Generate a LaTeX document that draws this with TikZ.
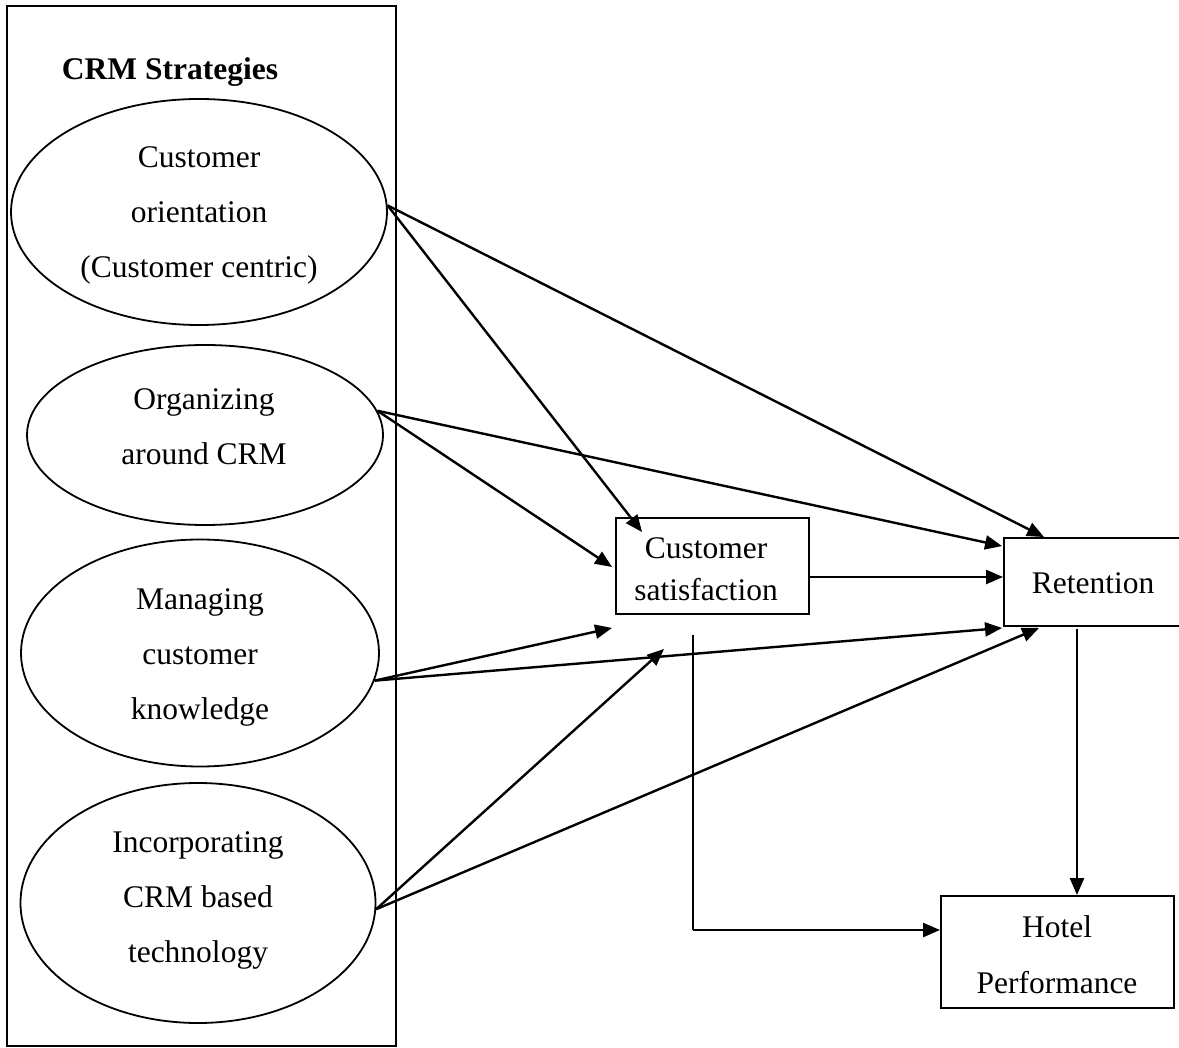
\documentclass[tikz,border=0pt]{standalone}
\usepackage{fontspec}
\setmainfont{Liberation Serif}
\usetikzlibrary{arrows.meta,shapes.geometric,calc}

\begin{document}
\begin{tikzpicture}[x=1pt,y=-1pt,
  oval/.style={draw, ellipse, line width=1.8pt, inner sep=0pt},
  box/.style={draw, rectangle, line width=1.9pt, inner sep=0pt},
  txt/.style={align=center, font=\fontsize{31.5}{55}\selectfont, inner sep=0pt},
  link/.style={line width=2.4pt, -{Triangle[length=17pt,width=14pt]}},
  thinlink/.style={line width=1.8pt},
]
\useasboundingbox (0,0) rectangle (1179,1048);

% container for the CRM strategies
\node[box, minimum width=389pt, minimum height=1040pt] (frame) at (201.5,526) {};
\node[txt, font=\fontsize{31.5}{55}\selectfont\bfseries] (title) at (170,72) {CRM Strategies};

% strategy ellipses
\node[oval, minimum width=376pt, minimum height=226pt] (e1) at (199,212) {};
\node[oval, minimum width=356pt, minimum height=180pt] (e2) at (205,435) {};
\node[oval, minimum width=358pt, minimum height=227pt] (e3) at (200,653) {};
\node[oval, minimum width=355pt, minimum height=240pt] (e4) at (198,903) {};

\node[txt] (t1) at (199,215) {Customer\\orientation\\(Customer centric)};
\node[txt] (t2) at (204,427) {Organizing\\around CRM};
\node[txt] (t3) at (200,657) {Managing\\customer\\knowledge};
\node[txt] (t4) at (198,900) {Incorporating\\CRM based\\technology};

% outcome boxes
\node[box, minimum width=193pt, minimum height=96pt] (cs) at (712.5,566) {};
\node[txt, font=\fontsize{31.5}{42}\selectfont] (cst) at (706,569) {Customer\\satisfaction};
\node[box, minimum width=178pt, minimum height=88pt] (ret) at (1093,582) {};
\node[txt] (rett) at (1093,583) {Retention};
\node[box, minimum width=233pt, minimum height=112pt] (hotel) at (1057.5,952) {};
\node[txt, font=\fontsize{31.5}{56}\selectfont] (hotelt) at (1057,955) {Hotel\\Performance};

% connectors
\draw[link] (e1.2) -- ($(cs.north west)+(27,15)$);
\draw[link] (e1.2) -- ($(ret.north west)+(41,0)$);
\draw[link] (e2.8) -- ($(cs.west)+(-3,1)$);
\draw[link] (e2.8) -- ($(ret.north west)+(-1,9)$);
\draw[link] (e3.-9) -- ($(cs.south west)+(-3,13)$);
\draw[link] (e3.-9) -- ($(ret.south west)+(-1,1)$);
\draw[link] (e4.-2) -- ($(cs.south west)+(49,34)$);
\draw[link] (e4.-2) -- ($(ret.south west)+(36,1)$);

\coordinate (csr) at ($(cs.east)+(0,11)$);
\draw[link] (csr) -- (csr -| ret.west);

\coordinate (retd) at ($(ret.south)+(-16,2)$);
\draw[link] (retd) -- (retd |- hotel.north);

\coordinate (csd) at ($(cs.south)+(-19.5,20)$);
\coordinate (hl) at ($(hotel.west)+(0,-22)$);
\draw[thinlink] (csd) -- (csd |- hl);
\draw[link] (csd |- hl) -- (hl);
\end{tikzpicture}
\end{document}
